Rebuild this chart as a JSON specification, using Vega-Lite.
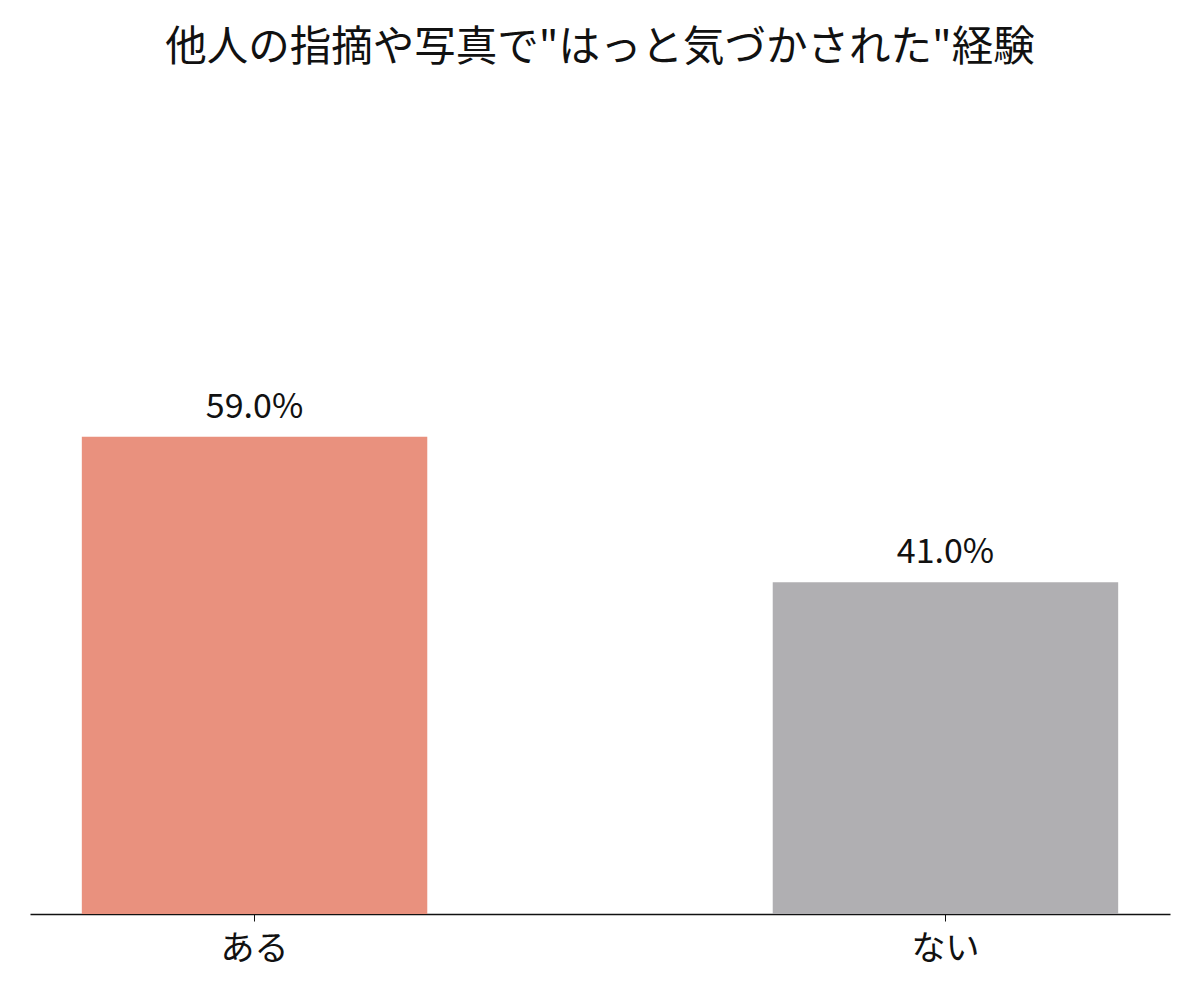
{
  "$schema": "https://vega.github.io/schema/vega-lite/v6.json",
  "autosize": "none",
  "padding": {"left": 30, "top": 105, "right": 30, "bottom": 86},
  "width": 1140,
  "height": 809,
  "background": "white",
  "title": {
    "text": "他人の指摘や写真で\"はっと気づかされた\"経験",
    "font": "Noto Sans CJK JP",
    "fontSize": 41.5,
    "fontWeight": "normal",
    "color": "#111111",
    "anchor": "middle",
    "frame": "group",
    "offset": 36
  },
  "config": {
    "view": {"stroke": null},
    "font": "Noto Sans CJK JP"
  },
  "data": {
    "values": [
      {"answer": "ある", "share": 0.59},
      {"answer": "ない", "share": 0.41}
    ]
  },
  "encoding": {
    "x": {
      "field": "answer",
      "type": "nominal",
      "sort": null,
      "title": null,
      "scale": {"paddingInner": 0.5, "paddingOuter": 0.075},
      "axis": {
        "labelAngle": 0,
        "labelFontSize": 34,
        "labelColor": "#111111",
        "labelPadding": 11,
        "tickSize": 7,
        "tickColor": "#111111",
        "domainColor": "#111111",
        "domainWidth": 1.5
      }
    },
    "y": {
      "field": "share",
      "type": "quantitative",
      "scale": {"domain": [0, 1]},
      "axis": null
    }
  },
  "layer": [
    {
      "mark": {"type": "bar"},
      "encoding": {
        "color": {
          "field": "answer",
          "type": "nominal",
          "scale": {"domain": ["ある", "ない"], "range": ["#E9917E", "#B0AFB2"]},
          "legend": null
        }
      }
    },
    {
      "mark": {"type": "text", "baseline": "alphabetic", "dy": -19, "fontSize": 34, "color": "#111111"},
      "encoding": {
        "text": {"field": "share", "type": "quantitative", "format": ".1%"}
      }
    }
  ]
}
